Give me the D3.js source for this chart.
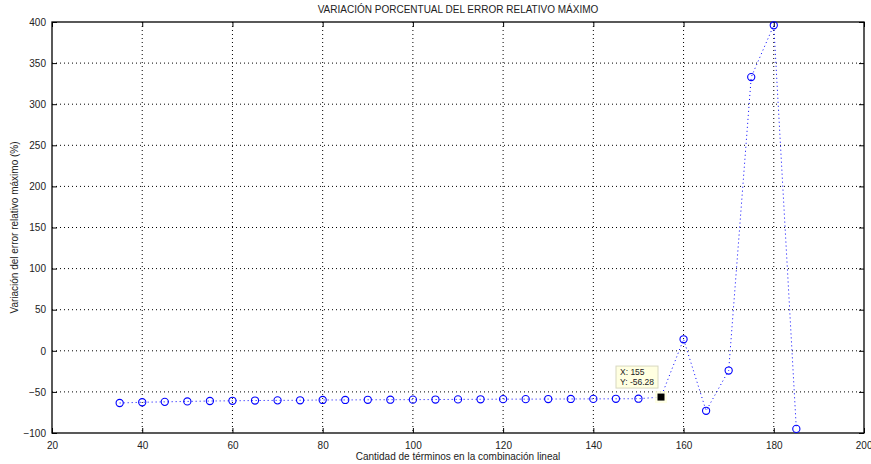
<!DOCTYPE html>
<html>
<head>
<meta charset="utf-8">
<title>Variación porcentual del error relativo máximo</title>
<script src="https://cdn.jsdelivr.net/npm/d3@7"></script>
<style>
  body { margin: 0; background: #fff; }
  text { font-family: "Liberation Sans", Arial, sans-serif; fill: #222; }
</style>
</head>
<body>
<script>
var terminos = [35, 40, 45, 50, 55, 60, 65, 70, 75, 80, 85, 90, 95, 100, 105, 110, 115, 120,
                125, 130, 135, 140, 145, 150, 155, 160, 165, 170, 175, 180, 185];
var variacion = [-63.5, -62.6, -62.1, -61.6, -61.1, -60.8, -60.5, -60.3, -60.2, -59.8, -59.8, -59.6,
                 -59.5, -59.4, -59.3, -59.1, -59.0, -58.8, -58.8, -58.7, -58.6, -58.5, -58.4, -58.3,
                 -56.28, 14, -73, -24, 333, 396, -95];
var xTicks = [20, 40, 60, 80, 100, 120, 140, 160, 180, 200];
var yTicks = [-100, -50, 0, 50, 100, 150, 200, 250, 300, 350, 400];
var tipX = 155, tipY = -56.28;

var W = 871, H = 464,
    m = {left: 52, right: 7, top: 22, bottom: 31},
    iw = W - m.left - m.right,
    ih = H - m.top - m.bottom;

var x = d3.scaleLinear().domain([20, 200]).range([0, iw]);
var y = d3.scaleLinear().domain([-100, 400]).range([ih, 0]);

var svg = d3.select("body").append("svg")
    .attr("width", W).attr("height", H);
var g = svg.append("g").attr("transform", "translate(" + m.left + "," + m.top + ")");

// grid
g.append("g").selectAll("line").data(xTicks.slice(1, -1)).enter().append("line")
    .attr("x1", x).attr("x2", x).attr("y1", 0).attr("y2", ih)
    .style("stroke", "#000").style("stroke-width", 1).style("stroke-dasharray", "1,3");
g.append("g").selectAll("line").data(yTicks.slice(1, -1)).enter().append("line")
    .attr("y1", y).attr("y2", y).attr("x1", 0).attr("x2", iw)
    .style("stroke", "#000").style("stroke-width", 1).style("stroke-dasharray", "1,3");

// axes (ticks inward, box)
function styleAxis(sel) {
    sel.select(".domain").remove();
    sel.selectAll("line").style("stroke", "#000");
    sel.selectAll("text").style("font-size", "10px").style("fill", "#222")
        .style("font-family", "'Liberation Sans', Arial, sans-serif");
}
var xAxis = g.append("g").attr("transform", "translate(0," + ih + ")")
    .call(d3.axisBottom(x).tickValues(xTicks).tickSize(-5).tickPadding(9))
    .call(styleAxis);
// keep the last label inside the window
xAxis.selectAll(".tick text").filter(function (d) { return d === 200; })
    .attr("text-anchor", "end").attr("dx", "8");
g.append("g")
    .call(d3.axisLeft(y).tickValues(yTicks).tickSize(-5).tickPadding(6))
    .call(styleAxis);
g.append("g")
    .call(d3.axisTop(x).tickValues(xTicks).tickSize(-5).tickFormat(""))
    .call(styleAxis);
g.append("g").attr("transform", "translate(" + iw + ",0)")
    .call(d3.axisRight(y).tickValues(yTicks).tickSize(-5).tickFormat(""))
    .call(styleAxis);
g.append("rect").attr("width", iw).attr("height", ih)
    .style("fill", "none").style("stroke", "#000").style("stroke-width", 1.3);

// series
var pts = terminos.map(function (d, i) { return [d, variacion[i]]; });
g.append("path").datum(pts)
    .attr("d", d3.line().x(function (d) { return x(d[0]); }).y(function (d) { return y(d[1]); }))
    .style("fill", "none").style("stroke", "#0000ff").style("stroke-width", 1)
    .style("stroke-dasharray", "1,3");
g.append("g").selectAll("circle").data(pts.filter(function (d) { return d[0] !== tipX; }))
    .enter().append("circle")
    .attr("cx", function (d) { return x(d[0]); })
    .attr("cy", function (d) { return y(d[1]); })
    .attr("r", 3.6)
    .style("fill", "none").style("stroke", "#0000ff").style("stroke-width", 1.1);

// data tip
var tx = x(tipX), ty = y(tipY);
g.append("rect").attr("x", tx - 6).attr("y", ty - 6).attr("width", 12).attr("height", 12)
    .style("fill", "#ffffe0").style("opacity", 0.8);
g.append("rect").attr("x", tx - 3.5).attr("y", ty - 3.5).attr("width", 7).attr("height", 7)
    .style("fill", "#000");
var tip = g.append("g").attr("transform", "translate(" + (tx - 45) + "," + (ty - 31) + ")");
tip.append("rect").attr("width", 42).attr("height", 22)
    .style("fill", "#ffffe1").style("stroke", "#d8d8c0").style("stroke-width", 1);
tip.append("text").attr("x", 4).attr("y", 9).style("font-size", "8.5px").text("X: " + tipX);
tip.append("text").attr("x", 4).attr("y", 19).style("font-size", "8.5px").text("Y: " + tipY);

// labels
svg.append("text").attr("x", m.left + iw / 2).attr("y", 13).attr("text-anchor", "middle")
    .style("font-size", "10px").text("VARIACIÓN PORCENTUAL DEL ERROR RELATIVO MÁXIMO");
svg.append("text").attr("x", m.left + iw / 2).attr("y", H - 4).attr("text-anchor", "middle")
    .style("font-size", "10px").text("Cantidad de términos en la combinación lineal");
svg.append("text").attr("transform", "translate(18," + (m.top + ih / 2) + ") rotate(-90)")
    .attr("text-anchor", "middle")
    .style("font-size", "10px").text("Variación del error relativo máximo (%)");
</script>
</body>
</html>
